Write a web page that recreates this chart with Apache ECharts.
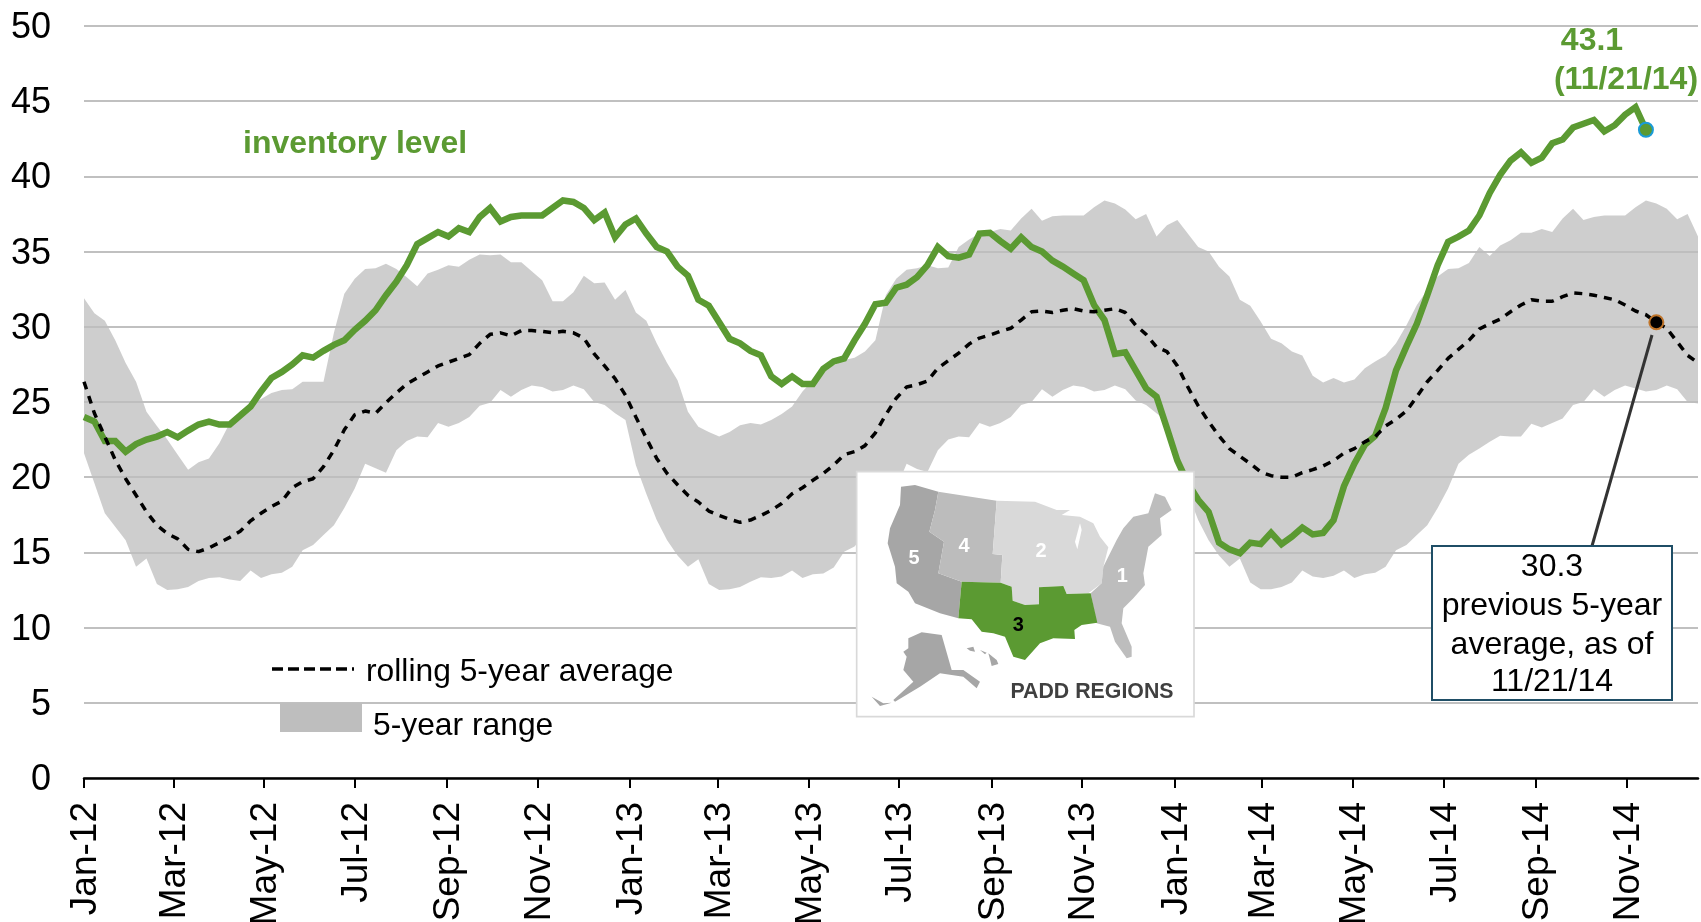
<!DOCTYPE html>
<html>
<head>
<meta charset="utf-8">
<title>PADD 3 inventory</title>
<style>
html, body { margin: 0; padding: 0; background: #fff; overflow: hidden; }
#chart { width: 1701px; height: 922px; }
</style>
<script src="https://cdn.jsdelivr.net/npm/echarts@6/dist/echarts.min.js"></script>
</head>
<body>
<div id="chart"></div>
<script>
var firstWeek = '2012-01-06';
var weekCount = 156;

// tick dates
var tickDates = ['2012-01-06', '2012-03-06', '2012-05-06', '2012-07-06', '2012-09-06', '2012-11-06',
    '2013-01-07', '2013-03-07', '2013-05-07', '2013-07-07', '2013-09-07', '2013-11-07',
    '2014-01-08', '2014-03-08', '2014-05-08', '2014-07-08', '2014-09-08', '2014-11-08'];
var tickLabels = ['Jan-12', 'Mar-12', 'May-12', 'Jul-12', 'Sep-12', 'Nov-12',
    'Jan-13', 'Mar-13', 'May-13', 'Jul-13', 'Sep-13', 'Nov-13',
    'Jan-14', 'Mar-14', 'May-14', 'Jul-14', 'Sep-14', 'Nov-14'];

var inventoryLevel = [
    24.0, 23.7, 22.4, 22.4, 21.7, 22.2, 22.5, 22.7, 23.0, 22.65,
    23.1, 23.5, 23.7, 23.5, 23.5, 24.1, 24.7, 25.7, 26.6, 27.0,
    27.5, 28.1, 27.95, 28.4, 28.8, 29.1, 29.8, 30.4, 31.1, 32.1,
    33.0, 34.1, 35.5, 35.9, 36.3, 36.0, 36.55, 36.3, 37.3, 37.9,
    37.0, 37.3, 37.4, 37.4, 37.4, 37.9, 38.4, 38.3, 37.9, 37.1,
    37.6, 35.95, 36.8, 37.2, 36.2, 35.3, 35.0, 34.0, 33.4, 31.8,
    31.4, 30.3, 29.2, 28.9, 28.4, 28.1, 26.7, 26.2, 26.7, 26.2,
    26.2, 27.2, 27.7, 27.9, 29.1, 30.2, 31.5, 31.6, 32.6, 32.8,
    33.3, 34.1, 35.3, 34.7, 34.6, 34.8, 36.2, 36.25, 35.7, 35.2,
    35.95, 35.3, 35.0, 34.4, 34.0, 33.55, 33.1, 31.45, 30.45, 28.2,
    28.3, 27.1, 25.9, 25.35, 23.25, 21.1, 19.6, 18.5, 17.7, 15.65,
    15.2, 14.95, 15.65, 15.55, 16.3, 15.55, 16.05, 16.65, 16.2, 16.3,
    17.15, 19.4, 20.9, 22.15, 22.75, 24.6, 27.1, 28.7, 30.2, 32.1,
    34.1, 35.65, 36.0, 36.4, 37.4, 38.9, 40.1, 41.05, 41.6, 40.9,
    41.25, 42.2, 42.45, 43.25, 43.5, 43.75, 43.0, 43.4, 44.1, 44.6,
    43.1
];

var rollingAverage = [
    26.35, 24.25, 22.7, 21.15, 19.9, 18.8, 17.7, 16.8, 16.25, 15.9,
    15.2, 15.05, 15.3, 15.65, 16.0, 16.4, 17.1, 17.6, 18.05, 18.4,
    19.3, 19.7, 19.9, 20.7, 21.8, 23.15, 24.15, 24.4, 24.25, 24.95,
    25.6, 26.2, 26.6, 27.0, 27.4, 27.65, 27.9, 28.15, 28.9, 29.5,
    29.6, 29.4, 29.75, 29.75, 29.7, 29.6, 29.7, 29.6, 29.25, 28.2,
    27.4, 26.55, 25.45, 24.0, 22.6, 21.25, 20.25, 19.5, 18.8, 18.35,
    17.75, 17.45, 17.2, 17.0, 17.15, 17.45, 17.8, 18.25, 18.9, 19.3,
    19.8, 20.25, 20.8, 21.5, 21.7, 22.1, 22.95, 24.15, 25.25, 26.0,
    26.15, 26.4, 27.25, 27.75, 28.25, 28.85, 29.25, 29.45, 29.7, 29.9,
    30.45, 31.0, 31.05, 30.95, 31.1, 31.2, 31.05, 31.0, 31.1, 31.2,
    30.95, 30.1, 29.5, 28.65, 28.35, 27.4, 26.0, 24.75, 23.7, 22.75,
    21.9, 21.4, 20.9, 20.35, 20.1, 20.0, 20.0, 20.3, 20.5, 20.75,
    21.1, 21.6, 21.9, 22.35, 22.7, 23.4, 23.85, 24.4, 25.35, 26.35,
    27.1, 27.9, 28.5, 29.1, 29.85, 30.2, 30.5, 31.0, 31.45, 31.8,
    31.7, 31.7, 32.0, 32.25, 32.2, 32.1, 31.95, 31.8, 31.45, 31.05,
    30.8, 30.3, 29.9, 29.0, 28.1, 27.6
];

var rangeHigh = [
    31.9, 30.9, 30.4, 29.1, 27.6, 26.35, 24.35, 23.4, 22.5, 21.5,
    20.5, 21.0, 21.25, 22.25, 23.6, 24.4, 24.8, 25.2, 25.6, 25.8,
    25.85, 26.35, 26.35, 26.35, 29.6, 32.2, 33.2, 33.85, 33.9, 34.2,
    33.85, 33.3, 32.7, 33.55, 33.8, 34.1, 34.0, 34.45, 34.8, 34.75,
    34.8, 34.3, 34.3, 33.7, 33.1, 31.7, 31.7, 32.3, 33.4, 32.9,
    32.95, 31.8, 32.45, 30.95, 30.4, 28.9, 27.6, 26.45, 24.35, 23.35,
    23.0, 22.7, 23.0, 23.45, 23.6, 23.5, 23.8, 24.2, 24.7, 25.7,
    26.45, 27.0, 27.45, 27.8, 27.95, 28.35, 29.1, 32.1, 33.2, 33.8,
    33.9, 34.1, 33.9, 33.95, 35.3, 35.8, 36.2, 36.3, 36.5, 36.4,
    37.2, 37.85, 37.05, 37.35, 37.4, 37.4, 37.4, 37.95, 38.4, 38.2,
    37.8, 37.15, 37.5, 36.0, 36.75, 37.1, 36.2, 35.3, 35.0, 34.0,
    33.35, 31.8, 31.4, 30.35, 29.2, 28.9, 28.35, 28.1, 26.75, 26.3,
    26.6, 26.3, 26.5, 27.25, 27.7, 28.1, 28.9, 30.1, 31.45, 32.45,
    33.35, 33.85, 33.9, 34.25, 35.3, 34.7, 35.4, 35.75, 36.25, 36.25,
    36.5, 36.3, 37.2, 37.85, 37.1, 37.3, 37.4, 37.4, 37.4, 37.95,
    38.4, 38.2, 37.85, 37.15, 37.5, 36.0
];

var rangeLow = [
    21.6, 19.6, 17.6, 16.7, 15.8, 14.05, 14.6, 12.9, 12.5, 12.55,
    12.7, 13.1, 13.3, 13.35, 13.2, 13.1, 13.8, 13.3, 13.55, 13.65,
    14.05, 15.15, 15.5, 16.15, 16.8, 17.95, 19.25, 20.9, 20.6, 20.3,
    21.8, 22.4, 22.7, 22.65, 23.6, 23.35, 23.6, 24.0, 24.75, 24.95,
    25.8, 25.35, 25.8, 26.1, 26.0, 25.7, 25.8, 26.1, 25.85, 25.0,
    24.8, 24.25, 23.8, 20.8, 18.9, 17.15, 15.8, 14.8, 14.05, 14.55,
    12.9, 12.5, 12.55, 12.7, 13.05, 13.35, 13.3, 13.4, 13.8, 13.3,
    13.55, 13.6, 14.0, 15.05, 15.4, 16.2, 16.8, 17.95, 19.25, 20.9,
    20.55, 20.35, 21.8, 22.5, 22.7, 22.65, 23.6, 23.35, 23.6, 24.0,
    24.8, 25.0, 25.85, 25.35, 25.8, 26.1, 26.0, 25.7, 25.8, 26.1,
    25.85, 25.1, 24.8, 24.25, 23.7, 20.8, 18.9, 17.15, 15.8, 14.8,
    14.05, 14.6, 13.0, 12.55, 12.55, 12.7, 13.0, 13.8, 13.4, 13.3,
    13.45, 13.8, 13.3, 13.55, 13.65, 14.05, 15.15, 15.5, 16.15, 16.8,
    17.95, 19.25, 20.9, 21.5, 21.9, 22.35, 22.75, 22.7, 22.7, 23.55,
    23.3, 23.6, 23.9, 24.8, 25.0, 25.85, 25.35, 25.8, 26.1, 25.9,
    25.7, 25.8, 26.1, 25.85, 25.0, 24.9
];

var DAY = 24 * 3600 * 1000;
var start = new Date(firstWeek).getTime();

// x axis runs in days from the first week
function weekDay(i) {
    return i * 7;
}

function pairs(list) {
    var out = [];
    for (var i = 0; i < list.length; i++) {
        out.push([weekDay(i), list[i]]);
    }
    return out;
}

var rangeRows = [];
for (var i = 0; i < rangeHigh.length; i++) {
    rangeRows.push([weekDay(i), rangeLow[i], rangeHigh[i]]);
}

var tickDays = [];
var labelByDay = {};
for (var k = 0; k < tickDates.length; k++) {
    var d = Math.round((new Date(tickDates[k]).getTime() - start) / DAY);
    tickDays.push(d);
    labelByDay[d] = tickLabels[k];
}

var lastInventory = inventoryLevel.length - 1;
var averageMark = 151;

var FONT = '"Liberation Sans", Arial, sans-serif';
var GREEN = '#5b9a32';

function txt(x, y, text, size, color, bold, align) {
    return {
        type: 'text', x: x, y: y + size * 0.06, z: 50,
        style: {
            text: text, fill: color, font: (bold ? 'bold ' : '') + size + 'px ' + FONT,
            textAlign: align || 'left', textVerticalAlign: 'middle'
        }
    };
}

function poly(points, color) {
    return { type: 'polygon', z: 41, shape: { points: points }, style: { fill: color } };
}

// one closed shape for the band, upper edge then lower edge back
function renderRange(params, api) {
    if (params.dataIndex !== 0) {
        return null;
    }
    var points = [];
    for (var i = 0; i < rangeRows.length; i++) {
        points.push(api.coord([rangeRows[i][0], rangeRows[i][2]]));
    }
    for (var j = rangeRows.length - 1; j >= 0; j--) {
        points.push(api.coord([rangeRows[j][0], rangeRows[j][1]]));
    }
    return { type: 'polygon', shape: { points: points }, style: { fill: '#bebebe', opacity: 0.75 } };
}

// PADD inset, drawn in a 3x working space
var mapGroup = {
    type: 'group', x: 840, y: 460, scaleX: 1 / 3, scaleY: 1 / 3, z: 40,
    children: [
        { type: 'rect', z: 40, shape: { x: 50, y: 35, width: 1012, height: 735 }, style: { fill: '#fff', stroke: '#d9d9d9', lineWidth: 5 } },
        poly([[183, 80], [225, 75], [295, 95], [285, 150], [268, 215], [312, 245], [295, 340], [365, 365], [355, 475], [300, 460], [225, 430], [205, 395], [170, 370], [165, 320], [143, 250], [150, 205], [180, 135]], '#a6a6a6'),
        poly([[295, 95], [470, 122], [458, 282], [487, 285], [482, 368], [365, 365], [295, 340], [312, 245], [268, 215], [285, 150]], '#bcbcbc'),
        poly([[470, 122], [585, 125], [650, 150], [690, 150], [665, 165], [720, 170], [760, 190], [780, 230], [805, 262], [790, 320], [785, 370], [745, 400], [680, 402], [670, 378], [597, 382], [597, 433], [555, 435], [518, 422], [515, 380], [482, 368], [487, 285], [458, 282]], '#d9d9d9'),
        poly([[720, 190], [705, 245], [712, 268], [725, 210]], '#fff'),
        poly([[945, 100], [975, 110], [995, 150], [960, 175], [965, 225], [925, 260], [910, 340], [915, 375], [880, 415], [850, 445], [845, 490], [875, 560], [875, 590], [860, 595], [825, 545], [810, 500], [770, 490], [752, 400], [785, 370], [790, 320], [830, 240], [850, 205], [880, 170], [925, 160]], '#bdbdbd'),
        poly([[365, 365], [482, 368], [515, 380], [518, 422], [555, 435], [597, 433], [597, 382], [670, 378], [680, 402], [752, 400], [772, 488], [725, 495], [703, 510], [705, 537], [640, 535], [600, 550], [555, 600], [520, 590], [495, 530], [460, 520], [425, 515], [395, 478], [355, 475]], GREEN),
        poly([[205, 535], [245, 517], [305, 525], [335, 630], [370, 630], [420, 665], [410, 685], [370, 650], [335, 645], [300, 640], [240, 680], [165, 725], [160, 720], [220, 665], [190, 630], [200, 590], [190, 575], [205, 565]], '#a6a6a6'),
        poly([[95, 710], [130, 730], [155, 728], [120, 738]], '#a6a6a6'),
        poly([[380, 565], [400, 560], [405, 575], [390, 572]], '#a6a6a6'),
        poly([[420, 570], [440, 578], [435, 583]], '#a6a6a6'),
        poly([[445, 580], [470, 600], [475, 612], [455, 618], [450, 598]], '#a6a6a6'),
        txt(222, 293, '5', 60, '#fff', true, 'center'),
        txt(372, 255, '4', 60, '#fff', true, 'center'),
        txt(603, 272, '2', 60, '#fff', true, 'center'),
        txt(847, 345, '1', 60, '#fff', true, 'center'),
        txt(535, 492, '3', 60, '#000', true, 'center'),
        txt(756, 692, 'PADD REGIONS', 64, '#404040', true, 'center')
    ]
};

var chart = echarts.init(document.getElementById('chart'), null, { renderer: 'canvas' });

var option = {
    animation: false,
    backgroundColor: '#fff',
    grid: { left: 84, right: 3, top: 26, bottom: 144, outerBoundsMode: 'none' },
    xAxis: {
        type: 'value',
        min: 0,
        max: weekDay(weekCount - 1),
        splitLine: { show: false },
        axisLine: { show: true, onZero: false, lineStyle: { color: '#000', width: 2.5 } },
        axisTick: { show: true, length: 10, customValues: tickDays, lineStyle: { color: '#000', width: 2 } },
        axisLabel: {
            customValues: tickDays,
            rotate: 90,
            margin: 24,
            hideOverlap: false,
            color: '#000',
            fontFamily: FONT,
            fontSize: 37,
            verticalAlign: 'top',
            lineHeight: 4,
            formatter: function (v) {
                return labelByDay[v] || '';
            }
        }
    },
    yAxis: {
        type: 'value',
        min: 0,
        max: 50,
        interval: 5,
        axisLine: { show: false },
        axisTick: { show: false },
        splitLine: { show: true, lineStyle: { color: '#c0c0c0', width: 2 } },
        axisLabel: { margin: 33, color: '#000', fontFamily: FONT, fontSize: 36, verticalAlign: 'top', lineHeight: 4 }
    },
    series: [
        {
            name: '5-year range', type: 'custom', renderItem: renderRange, silent: true,
            encode: { x: 0, y: [1, 2] },
            data: rangeRows
        },
        {
            name: 'inventory level', type: 'line', symbol: 'none',
            lineStyle: { color: GREEN, width: 6.5, join: 'miter' },
            data: pairs(inventoryLevel)
        },
        {
            name: 'rolling 5-year average', type: 'line', symbol: 'none',
            lineStyle: { color: '#000', width: 3.5, type: [8, 7] },
            data: pairs(rollingAverage)
        },
        {
            name: 'latest inventory', type: 'scatter', symbol: 'circle', symbolSize: 14, z: 5,
            itemStyle: { color: GREEN, borderColor: '#1a9bd7', borderWidth: 2, opacity: 1 },
            data: [[weekDay(lastInventory), inventoryLevel[lastInventory]]]
        },
        {
            name: 'latest average', type: 'scatter', symbol: 'circle', symbolSize: 14, z: 5,
            itemStyle: { color: '#000', borderColor: '#c0752a', borderWidth: 2, opacity: 1 },
            data: [[weekDay(averageMark), rollingAverage[averageMark]]]
        }
    ],
    graphic: [
        txt(243, 142, 'inventory level', 32, GREEN, true),
        txt(1592, 39, '43.1', 32, GREEN, true, 'center'),
        txt(1626, 78, '(11/21/14)', 32, GREEN, true, 'center'),
        { type: 'line', z: 45, shape: { x1: 272, y1: 669, x2: 354, y2: 669 }, style: { stroke: '#000', lineWidth: 3.5, lineDash: [11, 5] } },
        txt(366, 670, 'rolling 5-year average', 31.8, '#000'),
        { type: 'rect', z: 45, shape: { x: 280, y: 703, width: 82, height: 29 }, style: { fill: '#bebebe' } },
        txt(373, 724, '5-year range', 31.8, '#000'),
        mapGroup,
        { type: 'line', z: 45, shape: { x1: 1652, y1: 335, x2: 1592, y2: 546 }, style: { stroke: '#333', lineWidth: 3 } },
        { type: 'rect', z: 46, shape: { x: 1432, y: 546, width: 240, height: 154 }, style: { fill: '#fff', stroke: '#1f4e66', lineWidth: 2 } },
        txt(1552, 565, '30.3', 32, '#000', false, 'center'),
        txt(1552, 604, 'previous 5-year', 32, '#000', false, 'center'),
        txt(1552, 643, 'average, as of', 32, '#000', false, 'center'),
        txt(1552, 680, '11/21/14', 32, '#000', false, 'center')
    ]
};

chart.setOption(option);
</script>
</body>
</html>
